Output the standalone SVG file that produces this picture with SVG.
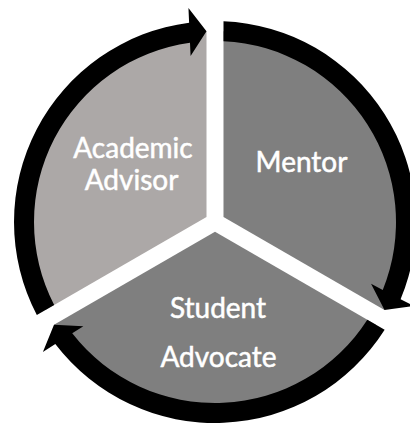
<svg xmlns="http://www.w3.org/2000/svg" width="410" height="424" viewBox="0 0 410 424">
  <style>
    .sector-light { fill: #aca8a7; }
    .sector-dark { fill: #7f7f7f; }
    .label { font-family: Lato, "Open Sans", "Liberation Sans", sans-serif; font-size: 28px; fill: #ffffff; stroke: #ffffff; stroke-width: 0.5px; text-anchor: middle; }
    .cycle-arrow { fill: #000000; }
  </style>
  <rect width="410" height="424" fill="#ffffff"/>

  <!-- three wedges of a circle (centre 215,222, r 191) separated by 17px gaps -->
  <g id="academic-advisor">
    <path class="sector-light" d="M206.5 217.09 L206.5 31.19 A191 191 0 0 0 45.5 310.03 Z"/>
    <text class="label" x="133" y="158">Academic</text>
    <text class="label" x="131.5" y="190">Advisor</text>
  </g>
  <g id="mentor">
    <path class="sector-dark" d="M223.5 217.09 L223.5 31.19 A191 191 0 0 1 384.5 310.03 Z"/>
    <text class="label" x="301.5" y="172">Mentor</text>
  </g>
  <g id="student-advocate">
    <path class="sector-dark" d="M215 231.81 L376 324.78 A191 191 0 0 1 54 324.78 Z"/>
    <text class="label" x="218" y="318">Student</text>
    <text class="label" x="218.5" y="367">Advocate</text>
  </g>

  <!-- clockwise ring arrows, 20px thick, each ending with a head at the next gap -->
  <g id="connectors">
    <path class="cycle-arrow" d="M223.5 21.18 A201 201 0 0 1 400.58 299.2 L413.64 305.98 L384.51 310.01 L371.04 283.86 L382.76 289.95 A181 181 0 0 0 223.5 41.2 Z"/>
    <path class="cycle-arrow" d="M384.66 329.77 A201 201 0 0 1 55.31 344.1 L42.9 352.02 L53.99 324.78 L83.37 326.19 L72.24 333.3 A181 181 0 0 0 367.32 319.76 Z"/>
    <path class="cycle-arrow" d="M36.84 315.05 A201 201 0 0 1 189.11 22.68 L188.45 7.97 L206.5 31.19 L190.59 55.93 L189.99 42.74 A181 181 0 0 0 54.18 305.04 Z"/>
  </g>
</svg>
